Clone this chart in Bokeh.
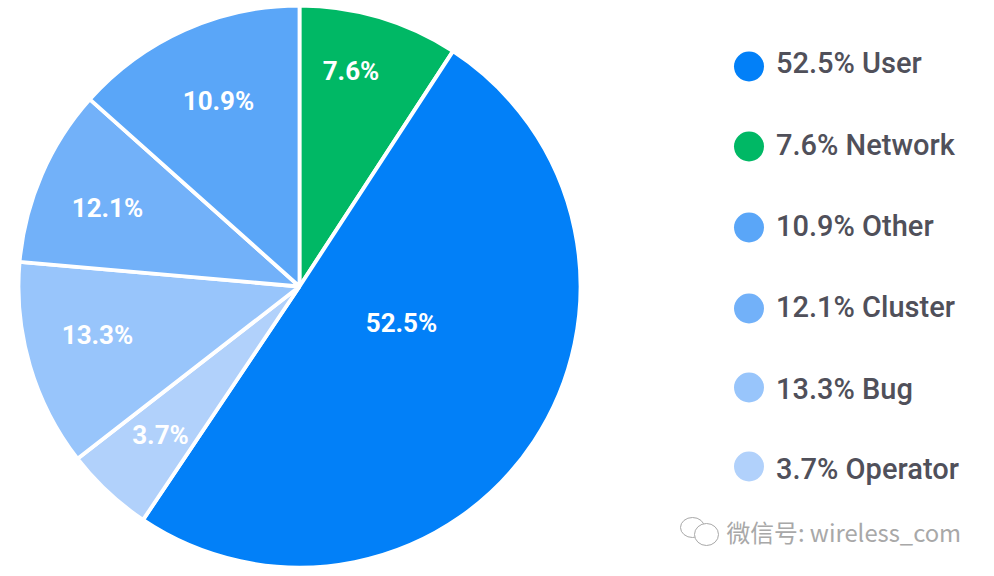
import math
from bokeh.plotting import figure
from bokeh.models import Range1d
from bokeh.core.properties import value
from bokeh.embed import file_html
from bokeh.resources import INLINE

# clockwise from 12 o'clock, as drawn in the picture
names = ["Network", "User", "Operator", "Bug", "Cluster", "Other"]
labels = [7.6, 52.5, 3.7, 13.3, 12.1, 10.9]          # printed values
drawn_share = [9.2, 50.2, 5.1, 11.9, 10.2, 13.4]     # slice sizes
colors = ["#00B865", "#0280F8", "#B1D1FB", "#98C5FB", "#72B1F9", "#5AA6F8"]

legend_order = ["User", "Network", "Other", "Cluster", "Bug", "Operator"]

W, H = 978, 568


def Y(py):
    return 576 - py


p = figure(width=W, height=H, output_backend="svg", toolbar_location=None,
           x_range=Range1d(0, W), y_range=Range1d(576 - H, 576),
           min_border=0, outline_line_color=None, background_fill_color="white")
p.axis.visible = False
p.grid.visible = False

# pie
cx, cy, r = 299, 286, 281
start = math.pi / 2
for share, col in zip(drawn_share, colors):
    end = start - share / sum(drawn_share) * 2 * math.pi
    p.wedge(x=[cx], y=[Y(cy)], radius=r, start_angle=end, end_angle=start,
            fill_color=col, line_color="white", line_width=3.8)
    start = end

# slice labels
label_pos = {"Network": (350.5, 70), "User": (401, 322), "Operator": (160, 434),
             "Bug": (97, 334), "Cluster": (107, 207), "Other": (218, 100)}
for n, v in zip(names, labels):
    x, y = label_pos[n]
    p.text(x=[x], y=[Y(y)], text=[f"{v}%"], text_color="white",
           text_font=value("Roboto"), text_font_style="bold", text_font_size="26px",
           text_align="center", text_baseline="middle")

# legend
marker_y = [66, 146, 227, 308, 387, 466]
text_y = [62, 144, 225, 306, 388, 468]
for n, my, ty in zip(legend_order, marker_y, text_y):
    i = names.index(n)
    p.scatter(x=[748.5], y=[Y(my)], size=30, marker="circle",
              fill_color=colors[i], line_color=None)
    p.text(x=[775.5], y=[Y(ty)], text=[f"{labels[i]}% {n}"], text_color="#50505A",
           text_font=value("Roboto Medium"), text_font_size="29px",
           text_align="left", text_baseline="middle")

# watermark
p.text(x=[726], y=[Y(531)], text=["微信号: wireless_com"], text_color="#A8A8A8",
       text_font=value("Noto Sans CJK SC"), text_font_size="23.8px",
       text_align="left", text_baseline="middle")
p.ellipse(x=[692], y=[Y(527)], width=24, height=20, fill_color=None,
          line_color="#A8A8A8", line_width=1)
p.ellipse(x=[706], y=[Y(534)], width=24, height=22, fill_color="white",
          line_color="#A8A8A8", line_width=1)

open("out.html", "w").write(file_html(p, INLINE))
